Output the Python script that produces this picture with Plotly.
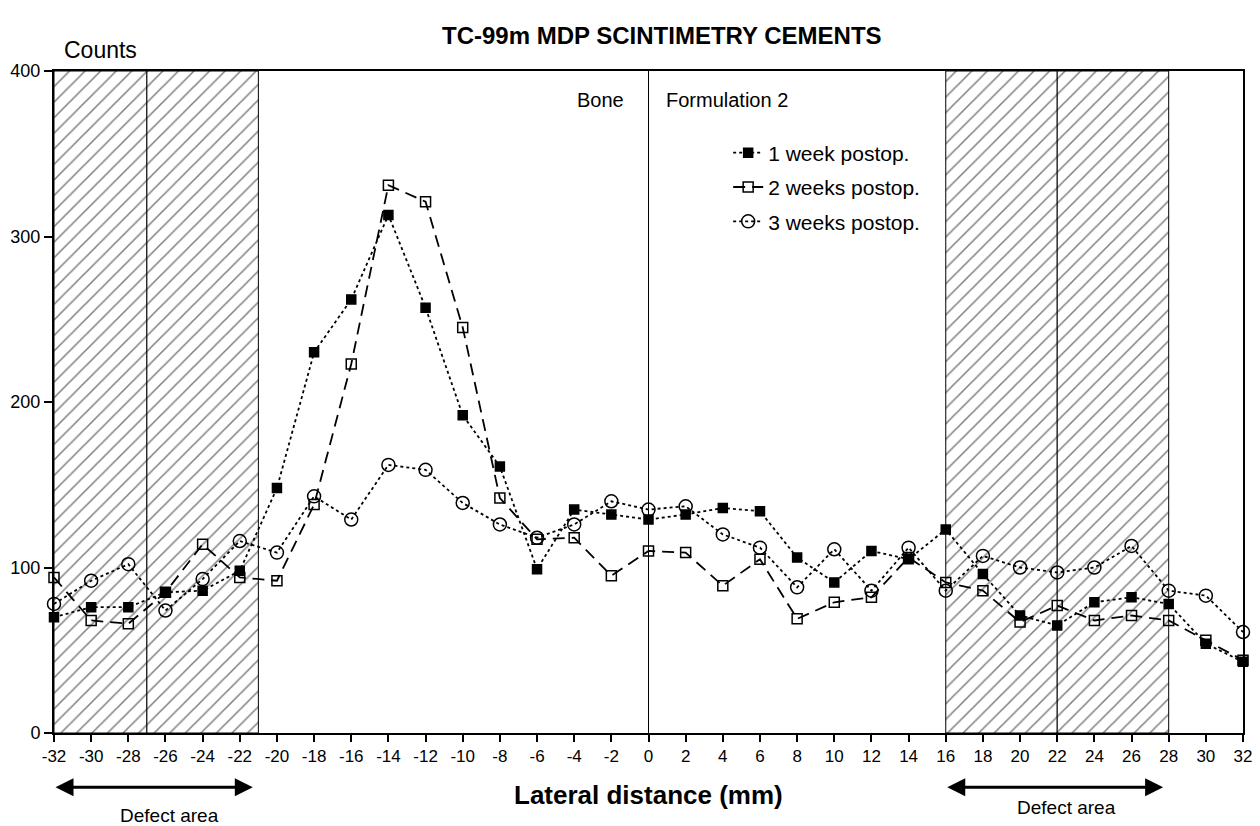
import plotly.graph_objects as go

# ---------------- data ----------------
lateral_mm = [-32, -30, -28, -26, -24, -22, -20, -18, -16, -14, -12, -10, -8, -6, -4, -2,
              0, 2, 4, 6, 8, 10, 12, 14, 16, 18, 20, 22, 24, 26, 28, 30, 32]

week1 = [70, 76, 76, 85, 86, 98, 148, 230, 262, 313, 257, 192, 161, 99, 135, 132,
         129, 132, 136, 134, 106, 91, 110, 105, 123, 96, 71, 65, 79, 82, 78, 54, 43]

week2 = [94, 68, 66, 85, 114, 94, 92, 138, 223, 331, 321, 245, 142, 117, 118, 95,
         110, 109, 89, 105, 69, 79, 82, 106, 91, 86, 67, 77, 68, 71, 68, 56, 44]

week3 = [78, 92, 102, 74, 93, 116, 109, 143, 129, 162, 159, 139, 126, 118, 126, 140,
         135, 137, 120, 112, 88, 111, 86, 112, 86, 107, 100, 97, 100, 113, 86, 83, 61]

series_names = ["1 week postop.", "2 weeks postop.", "3 weeks postop."]

x_tick_vals = lateral_mm
x_tick_text = ["-32", "-30", "-28", "-26", "-24", "-22", "-20", "-18", "-16", "-14", "-12",
               "-10", "-8", "-6", "-4", "-2", "0", "2", "4", "6", "8", "10", "12", "14",
               "16", "18", "20", "22", "24", "26", "28", "30", "32"]
y_tick_vals = [0, 100, 200, 300, 400]

# defect zones (hatched), boundaries in mm
left_zone_edges = [-32, -27, -21]
right_zone_edges = [16, 22, 28]
y_max = 400

FONT = "Liberation Sans, Arial, Helvetica, sans-serif"

fig = go.Figure()

# hatched defect areas
for edges in (left_zone_edges, right_zone_edges):
    for a, b in zip(edges[:-1], edges[1:]):
        fig.add_trace(go.Scatter(
            x=[a, b, b, a, a], y=[0, 0, y_max, y_max, 0],
            mode="lines", fill="toself", fillcolor="white",
            fillpattern=dict(shape="/", fgcolor="black", bgcolor="white",
                             size=11, solidity=0.14),
            line=dict(color="black", width=1),
            showlegend=False, hoverinfo="skip"))

# data series
styles = [
    dict(dash="3px,3px", symbol="square", size=9),
    dict(dash="12px,7px", symbol="square-open", size=10),
    dict(dash="3px,3px", symbol="circle-open", size=13),
]
for i, (yy, name, st) in enumerate(zip([week1, week2, week3], series_names, styles)):
    fig.add_trace(go.Scatter(
        x=lateral_mm, y=yy, name=name, legendgroup=f"g{i}",
        mode="lines+markers",
        line=dict(color="black", width=1.8, dash=st["dash"]),
        marker=dict(symbol=st["symbol"], size=st["size"], color="black",
                    line=dict(color="black", width=1.5)),
        cliponaxis=False))

# centre line (bone | formulation)
fig.add_shape(type="line", xref="x", yref="y", x0=0, x1=0, y0=0, y1=y_max,
              line=dict(color="black", width=1))

# annotations
fig.add_annotation(text="<b>TC-99m MDP SCINTIMETRY CEMENTS</b>", xref="paper", yref="paper",
                   x=0.511, y=1.054, yanchor="middle", showarrow=False,
                   font=dict(size=24, family=FONT, color="black"))
fig.add_annotation(text="Counts", xref="paper", yref="paper", x=0.007, y=1.031,
                   xanchor="left", yanchor="middle", showarrow=False,
                   font=dict(size=23, family=FONT, color="black"))
fig.add_annotation(text="Bone", xref="x", yref="paper", x=0, y=0.956, xshift=-23,
                   xanchor="right", yanchor="middle", showarrow=False,
                   font=dict(size=20, family=FONT, color="black"))
fig.add_annotation(text="Formulation 2", xref="x", yref="paper", x=0, y=0.956, xshift=15,
                   xanchor="left", yanchor="middle", showarrow=False,
                   font=dict(size=20, family=FONT, color="black"))
fig.add_annotation(text="<b>Lateral distance (mm)</b>", xref="paper", yref="paper",
                   x=0.5, y=-0.094, yanchor="middle", showarrow=False,
                   font=dict(size=26, family=FONT, color="black"))

# defect-area arrows and labels
for (a, b), tx, ty in (((left_zone_edges[0], left_zone_edges[-1]), -25.8, -0.124),
                       ((right_zone_edges[0], right_zone_edges[-1]), 22.5, -0.113)):
    fig.add_annotation(text="", xref="x", yref="paper", x=b - 0.3, y=-0.082,
                       axref="x", ayref="pixel", ax=a, ay=0,
                       showarrow=True, arrowside="end+start",
                       arrowhead=2, startarrowhead=2, arrowsize=1.2, startarrowsize=1.2,
                       arrowwidth=3, arrowcolor="black")
    fig.add_annotation(text="Defect area", xref="x", yref="paper", x=tx, y=ty,
                       showarrow=False, yanchor="middle",
                       font=dict(size=19, family=FONT, color="black"))

fig.update_layout(
    width=1252, height=818,
    margin=dict(l=46, r=17, t=63, b=93, autoexpand=False),
    paper_bgcolor="white", plot_bgcolor="white",
    font=dict(family=FONT, color="black"),
    showlegend=True,
    legend=dict(x=0.567, y=0.907, xanchor="left", yanchor="top",
                bgcolor="rgba(0,0,0,0)", font=dict(size=21, family=FONT, color="black"),
                tracegroupgap=4),
    xaxis=dict(range=[-32, 32], tickvals=x_tick_vals, ticktext=x_tick_text,
               automargin=False,
               showgrid=False, zeroline=False, showline=True, mirror=True,
               linecolor="black", linewidth=2, ticks="outside", ticklen=7,
               tickwidth=1.5, tickcolor="black",
               tickfont=dict(size=17, family=FONT, color="black")),
    yaxis=dict(range=[0, y_max], tickvals=y_tick_vals, automargin=False,
               showgrid=False, zeroline=False, showline=True, mirror=True,
               linecolor="black", linewidth=2, ticks="outside", ticklen=8,
               tickwidth=1.5, tickcolor="black",
               tickfont=dict(size=18, family=FONT, color="black")),
)

fig.write_html("out.html")
